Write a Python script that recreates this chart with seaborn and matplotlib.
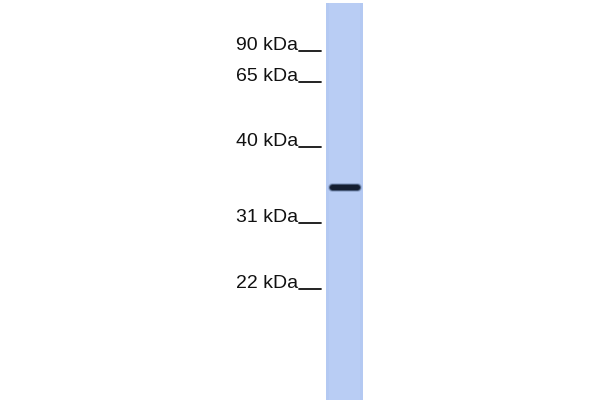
import matplotlib
matplotlib.use("Agg")
import matplotlib.pyplot as plt
import seaborn as sns
from matplotlib.patches import Rectangle

# Data
marker_labels = ["90 kDa", "65 kDa", "40 kDa", "31 kDa", "22 kDa"]
marker_kda = [90, 65, 40, 31, 22]
marker_pos = [50, 81, 146, 222, 288]   # migration position (px from top)
band_pos = [187]                       # detected band position
band_intensity = [1.0]

sns.set_theme(style="white")
plt.rcParams['font.family'] = ['Liberation Sans', 'DejaVu Sans']

fig = plt.figure(figsize=(6, 4), dpi=100)
ax = fig.add_axes([0, 0, 1, 1])
ax.set_xlim(0, 600)
ax.set_ylim(400, 0)
ax.axis("off")
fig.patch.set_facecolor("white")

# lane
lane_x0, lane_x1 = 325.5, 362.5
ax.add_patch(Rectangle((lane_x0, 3), lane_x1 - lane_x0, 400, facecolor="#b4c9f2",
                       edgecolor="none", zorder=1))
ax.add_patch(Rectangle((lane_x0 + 3, 3), lane_x1 - lane_x0 - 6, 400, facecolor="#b9cdf4",
                       edgecolor="none", zorder=1))

# markers
for lab, y in zip(marker_labels, marker_pos):
    ax.text(298, y, lab, ha="right", va="baseline", fontsize=14, color="#111111", zorder=3)
    sns.lineplot(x=[299, 321], y=[y + 1, y + 1], ax=ax, color="#111111", linewidth=1.3,
                 zorder=3)

# band (soft edges)
for y, inten in zip(band_pos, band_intensity):
    for lw, col, a in [(9, "#5a6f95", 0.35), (7, "#2a3a55", 0.75), (5, "#141e30", 1.0)]:
        ax.plot([332, 357], [y, y], color=col, linewidth=lw * 0.72 * inten,
                solid_capstyle="round", alpha=a, zorder=2)

fig.savefig("out.png", dpi=100, facecolor="white")
